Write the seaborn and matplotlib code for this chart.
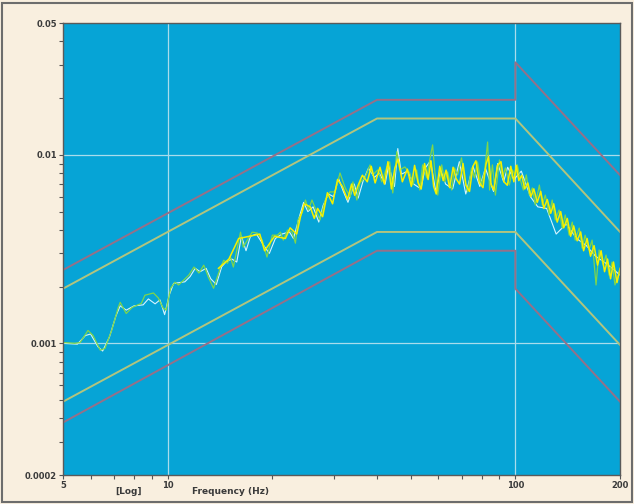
import matplotlib
matplotlib.use("Agg")
import matplotlib.pyplot as plt
import matplotlib.ticker as mticker
from matplotlib.patches import Rectangle
import numpy as np
import pandas as pd
import seaborn as sns

# --- profil (tolerancje) ---
alarm_f = [5, 40, 100, 200]
alarm_hi = [0.00195, 0.0156, 0.0156, 0.0039]
alarm_lo = [0.00049, 0.0039, 0.0039, 0.00098]
abort_f = [5, 40, 100, 100, 200]
abort_hi = [0.00245, 0.0196, 0.0196, 0.031, 0.0078]
abort_lo = [0.00038, 0.0031, 0.0031, 0.00195, 0.00049]

# --- zmierzone widma ---
green_f = [5, 5.4, 5.6, 5.9, 6.1, 6.4, 6.6, 6.9, 7.2, 7.3, 7.6, 7.9, 8.4, 8.6, 9.1, 9.4,
           9.7, 9.9, 10.2, 10.5, 10.75, 11.1, 11.5, 11.9, 12.3, 12.7, 13.1, 13.55, 14.2,
           14.5, 14.85, 15.15, 15.45, 16.2, 16.5, 16.95, 17.5, 18.1, 18.7, 19.3, 20, 20.7,
           21.1, 21.5, 22.1, 22.8, 23.3, 23.7, 24.4, 24.9, 25.4, 26.0, 26.9, 27.4, 28.4,
           29.3, 30.3, 31.3, 32.4, 33.5, 34.1, 35.0, 35.7, 36.9, 38.2, 38.9, 40.2, 41.3,
           42.7, 43.5, 44.4, 45.6, 46.5, 48.1, 49.7, 50.7, 52.0, 53.1, 54.1, 55.6, 56.7,
           57.8, 58.6, 59.8, 61.4, 62.6, 63.8, 65.6, 66.8, 68.2, 70.0, 71.4, 72.9, 74.8,
           76.3, 77.8, 79.9, 81.5, 83.2, 84.3, 85.9, 87.6, 90.0, 91.8, 93.6, 96.1, 98.0,
           100, 101.3, 103.3, 105.4, 107.5, 109.7, 111.9, 114.1, 117.2, 119.5, 121.9,
           125.2, 127.6, 130.2, 133.6, 136.4, 139.1, 142.8, 145.7, 148.6, 152.6, 155.6,
           158.7, 162.9, 166.2, 170.6, 174.1, 178.8, 182.3, 186.0, 189.7, 193.4, 200]
green_v = [0.00101, 0.00100, 0.00101, 0.00117, 0.00110, 0.00092, 0.00094, 0.00117, 0.00154,
           0.00165, 0.00144, 0.00155, 0.00163, 0.00180, 0.00185, 0.00174, 0.00154, 0.00150,
           0.00196, 0.00211, 0.00204, 0.00216, 0.00230, 0.00254, 0.00236, 0.00260, 0.00224,
           0.00196, 0.00254, 0.00276, 0.00266, 0.00287, 0.00254, 0.00389, 0.00324, 0.00353,
           0.00389, 0.00385, 0.00353, 0.00287, 0.00375, 0.00375, 0.00389, 0.00353, 0.00399,
           0.00389, 0.00340, 0.00451, 0.00497, 0.00576, 0.00510, 0.00576, 0.00491, 0.00451,
           0.00576, 0.00636, 0.00636, 0.00802, 0.00668, 0.00598, 0.00719, 0.00576, 0.00710,
           0.00755, 0.00885, 0.00783, 0.00832, 0.00719, 0.00863, 0.00918, 0.00628, 0.0104,
           0.00832, 0.00863, 0.00802, 0.00692, 0.00832, 0.00651, 0.00885, 0.00755, 0.0094,
           0.0113, 0.00832, 0.00612, 0.00885, 0.00719, 0.00812, 0.00651, 0.00853, 0.00783,
           0.00964, 0.0074, 0.00636, 0.00853, 0.00755, 0.00918, 0.00692, 0.00812, 0.0117,
           0.00651, 0.00885, 0.00612, 0.0094, 0.00755, 0.00853, 0.00692, 0.00832, 0.00773,
           0.00885, 0.0074, 0.00651, 0.00783, 0.00612, 0.00668, 0.00542, 0.00692, 0.00542,
           0.00612, 0.00480, 0.00576, 0.00451, 0.00510, 0.00409, 0.00480, 0.00375, 0.00440,
           0.00353, 0.00409, 0.00320, 0.00375, 0.00313, 0.00353, 0.00204, 0.00313, 0.00260,
           0.00294, 0.00230, 0.00270, 0.00204, 0.00245]

white_f = [5, 5.5, 5.8, 6.0, 6.3, 6.5, 6.8, 7.1, 7.3, 7.6, 8.0, 8.5, 8.8, 9.2, 9.5, 9.8,
           10.1, 10.4, 10.8, 11.2, 11.6, 12.0, 12.4, 12.9, 13.3, 13.8, 14.3, 14.7, 15.3,
           15.8, 16.3, 16.8, 17.3, 18.0, 18.9, 19.6, 20.4, 21.3, 22.4, 23.0, 24.0, 24.6,
           25.3, 26.2, 27.2, 28.0, 29.0, 30.0, 31.0, 32.0, 33.0, 34.4, 35.3, 36.5, 37.8,
           39.3, 40.6, 42.2, 43.2, 44.9, 45.9, 47.0, 49.0, 51.0, 53.5, 55.0, 57.0, 59.0,
           61.0, 63.0, 66.0, 69.0, 72.0, 75.5, 79.0, 82.0, 86.5, 89.0, 92.5, 95.0, 99.0,
           104.0, 110.5, 116.0, 123.0, 131.0, 140.0, 150.0, 160.0, 170.0, 180.0, 190.0, 200.0]
white_v = [0.00100, 0.00099, 0.00110, 0.00112, 0.00096, 0.00091, 0.00108, 0.00140, 0.00158,
           0.00150, 0.00158, 0.00160, 0.00172, 0.00162, 0.00170, 0.00142, 0.00180, 0.00208,
           0.00210, 0.00212, 0.00226, 0.00250, 0.00240, 0.00250, 0.00220, 0.00205, 0.00255,
           0.00270, 0.00280, 0.00270, 0.00370, 0.00310, 0.00370, 0.00380, 0.00330, 0.00300,
           0.00360, 0.00380, 0.00390, 0.00360, 0.00480, 0.00560, 0.00500, 0.00530, 0.00440,
           0.00540, 0.00620, 0.00600, 0.00750, 0.00640, 0.00560, 0.00700, 0.00590, 0.00730,
           0.00850, 0.00760, 0.00800, 0.00700, 0.00880, 0.00680, 0.0108, 0.00790, 0.00820,
           0.00700, 0.00660, 0.00850, 0.00930, 0.00640, 0.00830, 0.00700, 0.00660, 0.00920,
           0.00620, 0.00870, 0.00680, 0.00850, 0.00640, 0.00900, 0.00720, 0.00860, 0.00740,
           0.00820, 0.00600, 0.00530, 0.00520, 0.00380, 0.00430, 0.00360, 0.00330, 0.00290,
           0.00270, 0.00250, 0.00230]

yellow_f = [14.0, 15.0, 16.0, 17.2, 18.4, 19.0, 20.3, 21.8, 22.5, 23.5,
            24.1, 24.7, 25.7, 26.4, 27.0, 27.9, 28.8, 29.8, 30.8, 31.8,
            32.9, 33.8, 34.5, 35.3, 36.3, 37.5, 38.5, 39.5, 40.8, 42.0,
            43.0, 44.0, 45.0, 46.0, 47.3, 48.9, 50.2, 51.3, 52.5, 53.6,
            54.8, 56.1, 57.2, 58.2, 59.2, 60.6, 62.0, 63.2, 64.7, 66.2,
            67.5, 69.1, 70.7, 72.1, 73.8, 75.5, 77.0, 78.8, 80.7, 82.3,
            83.7, 85.1, 86.7, 88.8, 90.9, 92.7, 94.8, 97.0, 99.0, 100.6,
            102.3, 104.3, 106.4, 108.6, 110.8, 113.0, 115.6, 118.3, 120.7, 123.5,
            126.4, 128.9, 131.9, 135.0, 137.7, 141.0, 144.2, 147.1, 150.6, 154.1,
            157.1, 160.8, 164.5, 168.4, 172.3, 176.4, 180.5, 184.1, 187.8, 191.5,
            196.0, 200]
yellow_v = [0.0025, 0.0028, 0.0036, 0.0037, 0.0038, 0.0031, 0.0037, 0.0036, 0.0041, 0.0038,
            0.0047, 0.0055, 0.0053, 0.0046, 0.0052, 0.0047, 0.0063, 0.0055, 0.0074, 0.0068,
            0.0058, 0.0070, 0.0061, 0.0069, 0.0078, 0.0072, 0.0087, 0.0071, 0.0086, 0.0070,
            0.0092, 0.0066, 0.0085, 0.0095, 0.0072, 0.0084, 0.0068, 0.0088, 0.0071, 0.0066,
            0.0090, 0.0074, 0.0093, 0.0068, 0.0062, 0.0087, 0.0073, 0.0083, 0.0067, 0.0086,
            0.0075, 0.0070, 0.0090, 0.0069, 0.0064, 0.0087, 0.0093, 0.0071, 0.0067, 0.0089,
            0.0098, 0.0070, 0.0065, 0.0088, 0.0092, 0.0072, 0.0069, 0.0087, 0.0072, 0.0088,
            0.0073, 0.0078, 0.0066, 0.0071, 0.0060, 0.0066, 0.0056, 0.0064, 0.0052, 0.0058,
            0.0049, 0.0055, 0.0044, 0.0050, 0.0041, 0.0046, 0.0037, 0.0042, 0.0035, 0.0039,
            0.0031, 0.0036, 0.0029, 0.0033, 0.0026, 0.0031, 0.0024, 0.0028, 0.0022, 0.0027,
            0.0021, 0.0025]

x_ticks = [5, 10, 100, 200]
x_labels = ["5", "10", "100", "200"]
y_ticks = [0.0002, 0.001, 0.01, 0.05]
y_labels = ["0.0002", "0.001", "0.01", "0.05"]

BG = "#f9efdf"
PLOT_BG = "#06a4d6"
TXT = "#3a3a3a"

fig = plt.figure(figsize=(6.34, 5.04), dpi=100, facecolor=BG)
fig.patches.append(Rectangle((0.003, 0.003), 0.994, 0.992, transform=fig.transFigure,
                             fill=False, edgecolor="#6d6d6d", linewidth=1.5))
ax = fig.add_axes([0.0994, 0.0575, 0.8786, 0.8965])
ax.set_facecolor(PLOT_BG)

# siatka
for xv in (10, 100):
    ax.axvline(xv, color="#a9dcec", lw=0.9, zorder=0.5)
for yv in (0.001, 0.01):
    ax.axhline(yv, color="#a9dcec", lw=0.9, zorder=0.5)

# linie tolerancji
prof = [(alarm_f, alarm_hi, "#b2c47e"),
        (alarm_f, alarm_lo, "#b2c47e"),
        (abort_f, abort_hi, "#967088"),
        (abort_f, abort_lo, "#967088")]
for f, v, c in prof:
    d = pd.DataFrame({"f": f, "v": v})
    sns.lineplot(data=d, x="f", y="v", ax=ax, color=c, lw=1.4, sort=False,
                 estimator=None, zorder=2)

# widma: biale pod spodem, potem zielone, na wierzchu zolte
traces = [(white_f, white_v, "#d6f4ff", 0.8),
          (green_f, green_v, "#7fd64a", 0.9),
          (yellow_f, yellow_v, "#f4f000", 1.1)]
for f, v, c, lw in traces:
    d = pd.DataFrame({"f": f, "v": v})
    sns.lineplot(data=d, x="f", y="v", ax=ax, color=c, lw=lw, sort=False,
                 estimator=None, zorder=3)

ax.set_xscale("log")
ax.set_yscale("log")
ax.set_xlim(5, 200)
ax.set_ylim(0.0002, 0.05)

ax.xaxis.set_major_locator(mticker.FixedLocator(x_ticks))
ax.xaxis.set_major_formatter(mticker.FixedFormatter(x_labels))
ax.xaxis.set_minor_locator(mticker.LogLocator(base=10, subs=np.arange(2, 10)))
ax.xaxis.set_minor_formatter(mticker.NullFormatter())
ax.yaxis.set_major_locator(mticker.FixedLocator(y_ticks))
ax.yaxis.set_major_formatter(mticker.FixedFormatter(y_labels))
ax.yaxis.set_minor_locator(mticker.LogLocator(base=10, subs=np.arange(2, 10)))
ax.yaxis.set_minor_formatter(mticker.NullFormatter())

ax.tick_params(which="both", direction="out", color="#555555", length=3, width=0.8)
ax.tick_params(which="major", labelsize=6, labelcolor=TXT, pad=1.5)
for lab in ax.get_xticklabels() + ax.get_yticklabels():
    lab.set_fontweight("bold")

for s in ax.spines.values():
    s.set_color("#5a5a5a")
    s.set_linewidth(1.0)
    s.set_zorder(5)

ax.set_xlabel("")
ax.set_ylabel("")
fig.text(128 / 634, 1 - 492 / 504, "[Log]", ha="center", va="center",
         fontsize=6.5, fontweight="bold", color=TXT)
fig.text(230 / 634, 1 - 492 / 504, "Frequency (Hz)", ha="center", va="center",
         fontsize=6.5, fontweight="bold", color=TXT)

fig.savefig("out.png", dpi=100, facecolor=BG)
